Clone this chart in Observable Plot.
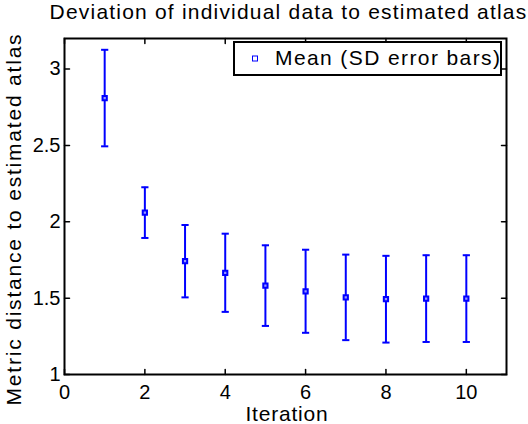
<!DOCTYPE html>
<html>
<head>
<meta charset="utf-8">
<script src="https://cdn.jsdelivr.net/npm/d3@7"></script>
<script src="https://cdn.jsdelivr.net/npm/@observablehq/plot@0.6"></script>
<style>
  body { margin: 0; background: #fff; }
  svg { display: block; }
</style>
</head>
<body>
<div id="chart"></div>
<script>
// ---- data ----
const iterations = [1, 2, 3, 4, 5, 6, 7, 8, 9, 10];
const meanValues = [2.81, 2.06, 1.742, 1.666, 1.582, 1.545, 1.505, 1.493, 1.497, 1.497];
const sdValues   = [0.316, 0.166, 0.237, 0.256, 0.264, 0.272, 0.280, 0.284, 0.284, 0.284];
const xTicks = [0, 2, 4, 6, 8, 10];
const yTicks = [1, 1.5, 2, 2.5, 3];
const titleText = "Deviation of individual data to estimated atlas";
const xLabel = "Iteration";
const yLabel = "Metric distance to estimated atlas";
const legendLabel = "Mean (SD error bars)";

const rows = iterations.map((it, i) => ({
  it, mean: meanValues[i], lo: meanValues[i] - sdValues[i], hi: meanValues[i] + sdValues[i]
}));

const W = 528, H = 424;
const mTop = 38, mRight = 22, mBottom = 50, mLeft = 64;
const blue = "#0000ff";
const font = "'Liberation Sans', Arial, Helvetica, sans-serif";

const tickShape = {draw(ctx, l) { ctx.moveTo(0, 0); ctx.lineTo(0, -l); }};
const capShape = {draw(ctx, size) { const r = Math.sqrt(size / Math.PI); ctx.moveTo(-r, 0); ctx.lineTo(r, 0); }};

const svg = Plot.plot({
  width: W, height: H,
  marginTop: mTop, marginRight: mRight, marginBottom: mBottom, marginLeft: mLeft,
  style: {fontFamily: font, fontSize: "20px", color: "#000", background: "#fff"},
  x: {domain: [0, 11]},
  y: {domain: [1, 3.2]},
  marks: [
    Plot.axisX({ticks: xTicks, tickSize: 0, tickPadding: 10, label: null, tickFormat: d => String(d)}),
    Plot.axisY({ticks: yTicks, tickSize: 0, tickPadding: 4, label: null, tickFormat: d => String(d)}),
    // inward ticks on all four sides
    Plot.vector(xTicks, {x: d => d, frameAnchor: "bottom", length: 5, rotate: 0, anchor: "start", shape: tickShape, strokeWidth: 1.5}),
    Plot.vector(xTicks, {x: d => d, frameAnchor: "top", length: 5, rotate: 180, anchor: "start", shape: tickShape, strokeWidth: 1.5}),
    Plot.vector(yTicks, {y: d => d, frameAnchor: "left", length: 5, rotate: 90, anchor: "start", shape: tickShape, strokeWidth: 1.5}),
    Plot.vector(yTicks, {y: d => d, frameAnchor: "right", length: 5, rotate: -90, anchor: "start", shape: tickShape, strokeWidth: 1.5}),
    // error bars
    Plot.ruleX(rows, {x: "it", y1: "lo", y2: "hi", stroke: blue, strokeWidth: 2}),
    Plot.dot(rows, {x: "it", y: "hi", symbol: capShape, r: 3.6, stroke: blue, strokeWidth: 2, fill: "none"}),
    Plot.dot(rows, {x: "it", y: "lo", symbol: capShape, r: 3.6, stroke: blue, strokeWidth: 2, fill: "none"}),
    Plot.dot(rows, {x: "it", y: "mean", symbol: "square", r: 2.4, stroke: blue, strokeWidth: 2, fill: "#9a9aff"}),
    Plot.frame({strokeWidth: 2}),
    // title and axis labels
    Plot.text([titleText], {frameAnchor: "top", textAnchor: "middle", lineAnchor: "bottom", dy: -20, dx: 3, fontSize: 21}),
    Plot.text([xLabel], {frameAnchor: "bottom", textAnchor: "middle", lineAnchor: "bottom", dy: 46, dx: 1.5, fontSize: 21}),
    Plot.text([yLabel], {frameAnchor: "left", textAnchor: "middle", lineAnchor: "bottom", rotate: -90, dx: -44, dy: 12.5, fontSize: 21})
  ]
});

// widen the label texts a little (letter spacing) to match the reference
const spacing = new Map([[titleText, "1.2px"], [xLabel, "0.8px"], [yLabel, "1.8px"]]);
d3.select(svg).selectAll("text").each(function() {
  const s = spacing.get(this.textContent);
  if (s) this.setAttribute("letter-spacing", s);
});

// legend box inside the upper-right corner of the frame
const fr = W - mRight;
const lg = d3.select(svg).append("g").attr("font-family", font).attr("font-size", 21).attr("text-anchor", "start");
const bx = fr - 272, by = mTop + 4, bw = 267, bh = 33;
lg.append("rect").attr("x", bx).attr("y", by).attr("width", bw).attr("height", bh)
  .attr("fill", "#fff").attr("stroke", "#000").attr("stroke-width", 2);
lg.append("rect").attr("x", bx + 18.5).attr("y", by + 14).attr("width", 5).attr("height", 5)
  .attr("fill", "none").attr("stroke", blue).attr("stroke-width", 1);
lg.append("text").attr("x", bx + 41).attr("y", by + 23).attr("letter-spacing", "1.4px")
  .attr("fill", "#000").text(legendLabel);

document.getElementById("chart").appendChild(svg);
</script>
</body>
</html>
